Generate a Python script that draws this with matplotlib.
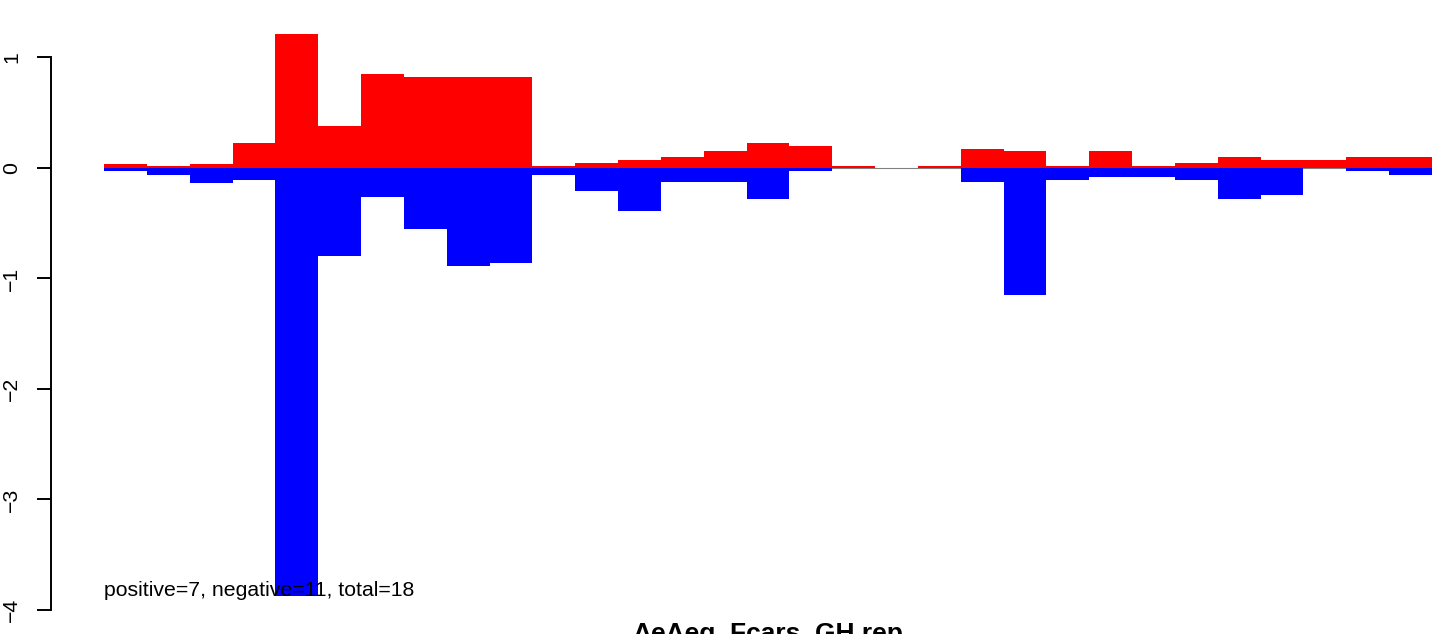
import matplotlib
matplotlib.use("Agg")
import matplotlib.pyplot as plt
import numpy as np

plt.rcParams['font.family'] = ['Liberation Sans', 'DejaVu Sans']

# values, one per bar (31 bars)
pos_vals = [0.04, 0.02, 0.04, 0.225, 1.21, 0.38, 0.85, 0.82, 0.82, 0.82,
            0.02, 0.045, 0.07, 0.10, 0.15, 0.225, 0.20, 0.02, 0.0, 0.02,
            0.17, 0.15, 0.02, 0.15, 0.02, 0.045, 0.10, 0.07, 0.07, 0.10, 0.10]
neg_vals = [-0.03, -0.06, -0.135, -0.11, -3.87, -0.80, -0.26, -0.55, -0.885, -0.86,
            -0.06, -0.21, -0.39, -0.13, -0.13, -0.285, -0.03, 0.0, 0.0, 0.0,
            -0.13, -1.145, -0.105, -0.08, -0.08, -0.105, -0.285, -0.24, 0.0, -0.03, -0.06]
yticks = [-4, -3, -2, -1, 0, 1]
note = "positive=7, negative=11, total=18"
xlabel = "AeAeg_Fcars_GH.rep"

W, H = 1444, 634
fig = plt.figure(figsize=(W / 100, H / 100), dpi=100)

# plot region in pixels (0 at y=168px, 110.5 px per unit)
x0, x1 = 104, 1432
ylo, yhi = -4.2, 1.45
ppu = 110.5
ytop = 168 - yhi * ppu
ybot = 168 - ylo * ppu
ax = fig.add_axes([x0 / W, (H - ybot) / H, (x1 - x0) / W, (ybot - ytop) / H])

n = len(pos_vals)
x = np.arange(n)
ax.axhline(0, color="#808080", lw=0.8, zorder=0)
ax.bar(x, pos_vals, width=1.0, align="edge", color="#ff0000", linewidth=0, antialiased=False, zorder=1)
ax.bar(x, neg_vals, width=1.0, align="edge", color="#0000ff", linewidth=0, antialiased=False, zorder=2)

ax.set_xlim(0, n)
ax.set_ylim(ylo, yhi)

for s in ["top", "right", "bottom"]:
    ax.spines[s].set_visible(False)
ax.spines["left"].set_position(("outward", 38))
ax.spines["left"].set_bounds(yticks[0], yticks[-1])
ax.spines["left"].set_linewidth(1.4)
ax.set_xticks([])
ax.set_yticks(yticks)
ax.tick_params(axis="y", length=10, width=1.4, pad=11.5, labelsize=15.3)
for lab in ax.get_yticklabels():
    lab.set_rotation(90)
    lab.set_va("center")

ax.text(0, -3.82, note, ha="left", va="center", fontsize=15.3, zorder=5, clip_on=False)
fig.text((x0 + x1) / 2 / W, (H - 622) / H, xlabel, ha="center", va="top",
         fontsize=19, fontweight="bold")

fig.savefig("out.png", dpi=100)
